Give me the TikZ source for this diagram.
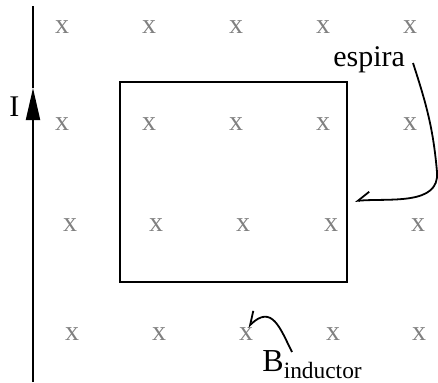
\documentclass[tikz,border=0pt]{standalone}
\usepackage{fontspec}
\setmainfont{Liberation Serif}
\usetikzlibrary{arrows.meta}

\begin{document}
\begin{tikzpicture}[
x=0.5pt, y=-0.5pt,
cross/.style={inner sep=0pt, text=gray, font=\fontsize{14}{16}\selectfont},
lbl/.style={inner sep=0pt, anchor=base west, font=\fontsize{15}{18}\selectfont},
pointer/.style={line width=0.9pt, -{Straight Barb[harpoon, swap, length=6pt, width=8pt]}}
]
\useasboundingbox (0,0) rectangle (438,382);

% field marks
\foreach \c [count=\i] in {62,149,236,323,410} {
  \node[cross] (xa\i) at (\c,27) {x};
  \node[cross] (xb\i) at (\c,124) {x};
}
\foreach \c [count=\i] in {70,156,243,331,418} {
  \node[cross] (xc\i) at (\c,225) {x};
}
\foreach \c [count=\i] in {72,159,246,333,419} {
  \node[cross] (xd\i) at (\c,334) {x};
}

% wire
\coordinate (wbot) at (33,382);
\coordinate (wmid) at (33,88);
\coordinate (wtop) at (33,6);
\draw[line width=1pt, -{Triangle[length=16pt, width=7pt]}] (wbot) -- (wmid);
\draw[line width=1pt] (wmid) -- (wtop);
\node[lbl] (cur) at (9,116) {I};

% loop
\node[draw, line width=1pt, inner sep=0pt, minimum width=113.5pt, minimum height=100pt] (loop) at (233.5,182) {};

% labels
\node[lbl] (esp) at (333,66) {espira};
\node[lbl, font=\fontsize{16}{18}\selectfont] (bind) at (262,371) {B\raisebox{-3.5pt}{\fontsize{11.7}{14}\selectfont inductor}};

% pointers
\coordinate (espstart) at (413,63);
\coordinate (espbend) at (437,172);
\coordinate (esptip) at (355,201);
\draw[pointer] (espstart) to[out=-72, in=95] (espbend) to[out=-85, in=5] (esptip);
\coordinate (bstart) at (292,352);
\coordinate (btip) at (248,327);
\draw[pointer] (bstart) .. controls (280,328) and (272,304) .. (btip);

\end{tikzpicture}
\end{document}
